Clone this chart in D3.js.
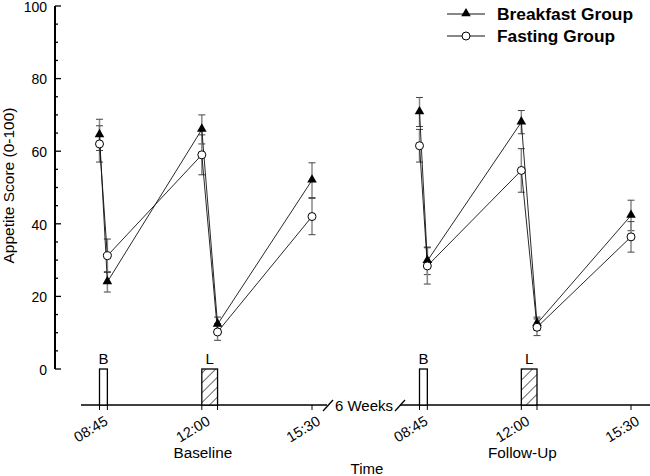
<!DOCTYPE html>
<html><head><meta charset="utf-8">
<script src="https://cdn.jsdelivr.net/npm/d3@7"></script>
<style>body{margin:0;background:#fff}svg{display:block}text{font-family:"Liberation Sans",Arial,sans-serif}</style>
</head><body><svg id="c" width="650" height="476"></svg>
<script>
const times = ["08:45","09:00","12:00","12:30","15:30"];
const sessions = ["Baseline","Follow-Up"];
const breakfastBaseline = [64.5, 24, 66, 12.3, 52];
const breakfastBaselineErr = [4.3, 2.8, 4, 2, 4.8];
const fastingBaseline = [62, 31.2, 59, 10.2, 42];
const fastingBaselineErr = [5, 4.6, 5.5, 2.3, 5];
const breakfastFollow = [70.8, 29.8, 68, 12.5, 42.3];
const breakfastFollowErr = [4, 3.8, 3.2, 1.8, 4.2];
const fastingFollow = [61.5, 28.4, 54.7, 11.5, 36.4];
const fastingFollowErr = [4.5, 5, 6, 2.3, 4.2];
const yTicks = [0,20,40,60,80,100];
const labeledTimes = ["08:45","12:00","15:30"];
const meals = [{label:"B", from:"08:45", to:"09:00", hatch:false},{label:"L", from:"12:00", to:"12:30", hatch:true}];

const svg = d3.select("#c");
const toMin = t => { const [h,m] = t.split(":").map(Number); return h*60+m; };
const y = d3.scaleLinear().domain([0,100]).range([369,6]);
const xs = [
  d3.scaleLinear().domain([toMin("08:45"), toMin("15:30")]).range([99.5, 312]),
  d3.scaleLinear().domain([toMin("08:45"), toMin("15:30")]).range([419.5, 631])
];
const axisY = 405;

const defs = svg.append("defs");
const pat = defs.append("pattern").attr("id","hatch").attr("patternUnits","userSpaceOnUse")
  .attr("width",7).attr("height",7).attr("patternTransform","rotate(45)");
pat.append("rect").attr("width",7).attr("height",7).attr("fill","#fff");
pat.append("line").attr("x1",0).attr("y1",0).attr("x2",0).attr("y2",7).attr("stroke","#000").attr("stroke-width",1.2);

// Y axis
const yg = svg.append("g").attr("transform","translate(55,0)");
yg.append("line").attr("x1",0).attr("x2",0).attr("y1",y(100)).attr("y2",y(0)).attr("stroke","#000").attr("stroke-width",2);
yg.selectAll("line.t").data(d3.range(0,101,5)).join("line").attr("class","t")
  .attr("x1",0).attr("x2",d=>d%20===0?6:3).attr("y1",d=>y(d)).attr("y2",d=>y(d)).attr("stroke","#000").attr("stroke-width",1.3);
yg.selectAll("text").data(yTicks).join("text").attr("x",-8).attr("y",d=>y(d)).attr("dy","0.42em")
  .attr("text-anchor","end").attr("font-size",14).text(d=>d);
svg.append("text").attr("transform",`translate(14,185.5) rotate(-90)`).attr("text-anchor","middle")
  .attr("font-size",15.5).text("Appetite Score (0-100)");

// time axis
svg.append("line").attr("x1",81).attr("x2",327).attr("y1",axisY).attr("y2",axisY).attr("stroke","#000").attr("stroke-width",1.5);
svg.append("line").attr("x1",400).attr("x2",650).attr("y1",axisY).attr("y2",axisY).attr("stroke","#000").attr("stroke-width",1.5);
svg.append("line").attr("x1",323).attr("y1",411).attr("x2",333).attr("y2",400).attr("stroke","#000").attr("stroke-width",1.3);
svg.append("line").attr("x1",395).attr("y1",411).attr("x2",405).attr("y2",400).attr("stroke","#000").attr("stroke-width",1.3);
svg.append("text").attr("x",364).attr("y",410.5).attr("text-anchor","middle").attr("font-size",15).text("6 Weeks");

xs.forEach((x,si)=>{
  const g = svg.append("g");
  g.selectAll("line.tk").data(times).join("line").attr("class","tk")
    .attr("x1",d=>x(toMin(d))).attr("x2",d=>x(toMin(d))).attr("y1",axisY).attr("y2",axisY+5).attr("stroke","#000");
  g.selectAll("text.tl").data(labeledTimes).join("text").attr("class","tl")
    .attr("transform",d=>`translate(${x(toMin(d))+4},${axisY+10}) rotate(-31)`)
    .attr("text-anchor","end").attr("dy","0.72em").attr("font-size",14.5).text(d=>d);
  g.append("text").attr("x",x(toMin("12:00"))+1).attr("y",457.5).attr("text-anchor","middle").attr("font-size",15.3).text(sessions[si]);
  meals.forEach(m=>{
    g.append("rect").attr("x",x(toMin(m.from))).attr("width",x(toMin(m.to))-x(toMin(m.from)))
      .attr("y",y(0)).attr("height",axisY-y(0)).attr("fill",m.hatch?"url(#hatch)":"#fff").attr("stroke","#000").attr("stroke-width",1.3);
    g.append("text").attr("x",(x(toMin(m.from))+x(toMin(m.to)))/2).attr("y",y(0)-5).attr("text-anchor","middle").attr("font-size",15).text(m.label);
  });
});
svg.append("text").attr("x",367).attr("y",474).attr("text-anchor","middle").attr("font-size",15).text("Time");

// series
const series = [
  {x:xs[0], vals:breakfastBaseline, err:breakfastBaselineErr, type:"tri"},
  {x:xs[0], vals:fastingBaseline, err:fastingBaselineErr, type:"circ"},
  {x:xs[1], vals:breakfastFollow, err:breakfastFollowErr, type:"tri"},
  {x:xs[1], vals:fastingFollow, err:fastingFollowErr, type:"circ"}
];
series.forEach(s=>{
  const pts = times.map((t,i)=>({x:s.x(toMin(t)), v:s.vals[i], e:s.err[i]}));
  const g = svg.append("g");
  g.selectAll("line.eb").data(pts).join("line").attr("x1",d=>d.x).attr("x2",d=>d.x)
    .attr("y1",d=>y(d.v+d.e)).attr("y2",d=>y(d.v-d.e)).attr("stroke","#888").attr("stroke-width",1.5);
  [1,-1].forEach(sg=>{
    g.selectAll("line.cap"+sg).data(pts).join("line").attr("x1",d=>d.x-3.5).attr("x2",d=>d.x+3.5)
      .attr("y1",d=>y(d.v+sg*d.e)).attr("y2",d=>y(d.v+sg*d.e)).attr("stroke","#444").attr("stroke-width",1);
  });
});
series.forEach(s=>{
  const pts = times.map((t,i)=>({x:s.x(toMin(t)), v:s.vals[i]}));
  svg.append("path").datum(pts).attr("d",d3.line().x(d=>d.x).y(d=>y(d.v)))
    .attr("fill","none").attr("stroke","#111").attr("stroke-width",0.9);
});
const tri = d3.symbol().type(d3.symbolTriangle).size(40);
series.forEach(s=>{
  const pts = times.map((t,i)=>({x:s.x(toMin(t)), v:s.vals[i]}));
  if(s.type==="tri"){
    svg.append("g").selectAll("path").data(pts).join("path").attr("d",tri)
      .attr("transform",d=>`translate(${d.x},${y(d.v)-0.5})`).attr("fill","#000");
  } else {
    svg.append("g").selectAll("circle").data(pts).join("circle").attr("cx",d=>d.x).attr("cy",d=>y(d.v)).attr("r",4)
      .attr("fill","#fff").attr("stroke","#000").attr("stroke-width",1);
  }
});

// legend
const legend = [{name:"Breakfast Group", type:"tri", yy:14, len:136},{name:"Fasting Group", type:"circ", yy:36, len:118}];
legend.forEach(l=>{
  svg.append("line").attr("x1",447).attr("x2",485).attr("y1",l.yy).attr("y2",l.yy).attr("stroke","#111");
  if(l.type==="tri") svg.append("path").attr("d",tri).attr("transform",`translate(466,${l.yy-0.5})`).attr("fill","#000");
  else svg.append("circle").attr("cx",466).attr("cy",l.yy).attr("r",4).attr("fill","#fff").attr("stroke","#000");
  svg.append("text").attr("x",497).attr("y",l.yy).attr("dy","0.36em").attr("font-size",16)
    .attr("textLength",l.len).attr("lengthAdjust","spacingAndGlyphs").attr("font-weight","bold").text(l.name);
});
</script></body></html>
